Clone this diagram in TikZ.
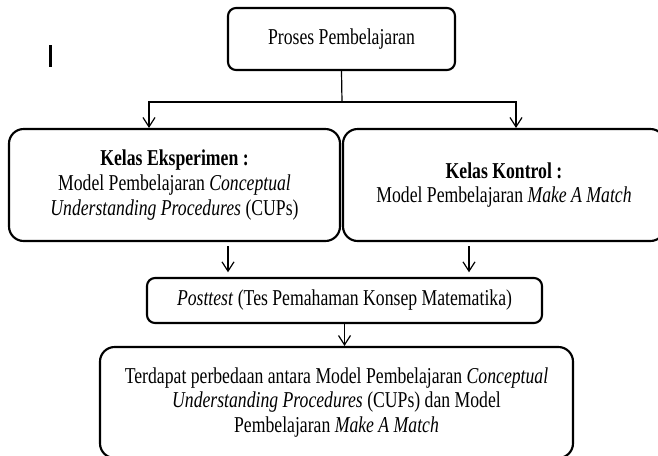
\documentclass[tikz,border=0pt]{standalone}
\usepackage{fontspec}
\setmainfont{Liberation Serif}[FakeStretch = 0.78]
\usetikzlibrary{arrows.meta}
\tikzset{   box/.style = {rectangle, draw = black, line width = 1.6pt, fill = white, rounded corners = 6pt, inner sep = 0pt, align = center, font = \fontsize{17}{18.5}\selectfont},
            bigbox/.style = {box, rounded corners = 11pt},
            link/.style = {draw = black, line width = 0.9pt},
            arrow/.style = {link, -{Straight Barb[length = 7pt, width = 9pt]}}}

\begin{document}
\begin{tikzpicture}[x = 0.75pt, y = -0.75pt]
                        \clip (0,0) rectangle (658,455);
                        \fill[white] (0,0) rectangle (658,455);
                        \fill[black] (49,45) rectangle (52,67);
                        \node[box, minimum width = 170.25pt, minimum height = 46.5pt] (proses) at (341.5,39) {Proses Pembelajaran};
                        \node[bigbox, minimum width = 248.25pt, minimum height = 84pt] (eksp) at (174.5,185) {\textbf{Kelas Eksperimen :}\\ Model Pembelajaran \textit{Conceptual}\\ \textit{Understanding Procedures} (CUPs)};
                        \node[bigbox, minimum width = 241.5pt, minimum height = 84pt] (kontrol) at (504,185) {\textbf{Kelas Kontrol :}\\ Model Pembelajaran \textit{Make A Match}};
                        \node[box, minimum width = 296.25pt, minimum height = 33.75pt] (post) at (344.5,300.5) {\textit{Posttest} (Tes Pemahaman Konsep Matematika)};
                        \node[bigbox, minimum width = 354.75pt, minimum height = 83.25pt] (hasil) at (336.5,402.5) {Terdapat perbedaan antara Model Pembelajaran \textit{Conceptual}\\ \textit{Understanding Procedures} (CUPs) dan Model\\ Pembelajaran \textit{Make A Match}};
                        \coordinate (split) at (342,102);
                        \coordinate (kiri) at (149,0);
                        \coordinate (kanan) at (516,0);
                        \coordinate (turunkiri) at (228,0);
                        \coordinate (turunkanan) at (469,0);
                        \draw[link] (proses.south) -- (split);
                        \draw[arrow] (split) -| (kiri |- eksp.north);
                        \draw[arrow] (split) -| (kanan |- kontrol.north);
                        \draw[arrow, shorten < = 3pt, shorten > = 3.5pt] (turunkiri |- eksp.south) -- (turunkiri |- post.north);
                        \draw[arrow, shorten < = 3pt, shorten > = 3.5pt] (turunkanan |- kontrol.south) -- (turunkanan |- post.north);
                        \draw[arrow] (post.south) -- (post.south |- hasil.north);
\end{tikzpicture}
\end{document}
